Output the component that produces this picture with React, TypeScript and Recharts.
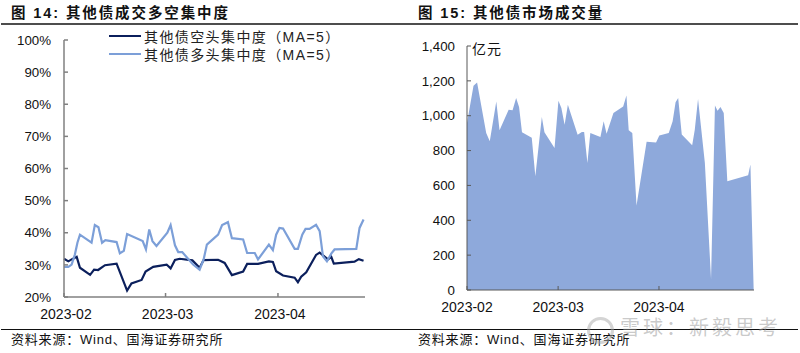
import React from 'react';
import { LineChart, Line, AreaChart, Area, XAxis, YAxis, Legend } from 'recharts';

const FONT = '"Liberation Sans", Arial, sans-serif';
const CJK = '"Liberation Sans", "Noto Sans CJK SC", sans-serif';

// days counted from 2023-02-01
const monthTickDays = [0, 28, 59];
const monthLabels = ['2023-02', '2023-03', '2023-04'];

const shortDays = [0, 1.2, 2.1, 3.5, 4.4, 7.2, 8.3, 9.4, 11.3, 14.5, 17.4, 18.6, 21.4, 22.5, 24.6, 28.3, 29.4, 30.6, 31.9, 35.4, 37.4, 38.5, 42.5, 44.3, 46.3, 49.4, 50.5, 53.5, 56.5, 57.6, 58.5, 60.4, 63.6, 64.5, 65.4, 66.8, 69.5, 70.5, 72.8, 73.7, 74.4, 80.1, 81.3, 82.6];
const shortValues = [31.9, 31.1, 31.7, 32.5, 29.1, 26.9, 28.5, 28.4, 29.9, 30.4, 22, 24.2, 25.3, 27.9, 29.4, 30.1, 28.9, 31.5, 31.9, 31.4, 29.1, 31.5, 31.6, 30.6, 26.8, 27.9, 30.3, 30.3, 31.1, 30.9, 28, 26.7, 26, 24.6, 26.3, 27.7, 33.1, 33.8, 31.7, 32.5, 30.4, 31, 31.8, 31.3];

const longDays = [0, 1.2, 2.1, 3, 3.7, 4.4, 7.6, 8.5, 9.5, 10.5, 11.4, 14.5, 15.4, 16.5, 17.4, 21.7, 22.6, 23.5, 24.4, 25.5, 28.5, 29.4, 30.6, 31.5, 32.6, 34.2, 35.6, 37.4, 38.5, 39.4, 42.5, 43.6, 45.2, 46.3, 49.4, 50.5, 52.6, 53.5, 56.5, 57.6, 58.5, 59.4, 60.4, 63.6, 64.5, 65.7, 66.6, 67.7, 69.5, 70.5, 71.4, 72.5, 73.7, 74.6, 80.6, 81.5, 82.6];
const longValues = [29.4, 29.4, 30.1, 33.2, 36.9, 39.4, 36.9, 42.4, 41.7, 36.9, 37.7, 37.1, 33.6, 34.4, 39.6, 37.4, 34.8, 41, 37.4, 35.9, 40, 42.4, 36.1, 34, 34, 31.9, 30.1, 28.5, 31.7, 36.3, 39.4, 42.4, 43.3, 38.3, 37.9, 33.7, 33.7, 31.7, 36.3, 34.6, 39.4, 41.5, 41.3, 35, 35, 39.4, 41.2, 41.2, 42.5, 40.5, 32.7, 31.1, 33.5, 34.8, 35, 41.5, 44.1];

const pctTicks = [20, 30, 40, 50, 60, 70, 80, 90, 100];

const volumeDays = [0, 2, 3.1, 5.9, 7, 9, 10, 12.8, 14, 15.1, 16, 16.9, 19.9, 21, 23, 23.8, 26.9, 28.1, 29, 30, 31, 34, 35.3, 36, 37, 37.9, 41, 42, 42.9, 45, 48, 49, 49.7, 50.8, 52.1, 55.2, 58.1, 59.1, 62, 63.2, 64.1, 64.9, 66, 69.2, 70, 71, 73.1, 75, 76.2, 77, 77.9, 78.9, 80, 86.4, 87.1, 88.1];
const volumeValues = [958, 1172, 1191, 901, 853, 1082, 916, 1034, 1032, 1101, 1050, 905, 874, 653, 992, 905, 815, 1086, 1044, 948, 1063, 891, 906, 906, 729, 901, 878, 968, 897, 1015, 1053, 1116, 916, 901, 485, 850, 846, 886, 901, 968, 1077, 1101, 892, 831, 920, 1096, 729, 61, 1058, 1029, 1050, 1016, 624, 659, 720, 0];

const volumeTicks = [0, 200, 400, 600, 800, 1000, 1200, 1400];

const shortData = shortDays.map((day, i) => ({ day, value: shortValues[i] }));
const longData = longDays.map((day, i) => ({ day, value: longValues[i] }));
const volumeData = volumeDays.map((day, i) => ({ day, value: volumeValues[i] }));

const monthFormat = (d: number) => monthLabels[monthTickDays.indexOf(d)];

const yTickStyle = { fill: '#111', fontSize: 13.3, fontFamily: FONT };
const xTickStyle = { fill: '#111', fontSize: 14, fontFamily: FONT };

const absText = (left: number, top: number, size: number, extra: React.CSSProperties = {}): React.CSSProperties => ({
  position: 'absolute', left, top, fontSize: size, lineHeight: `${size + 4}px`, whiteSpace: 'nowrap', color: '#111', fontFamily: CJK, ...extra,
});

const rule = (left: number, top: number, width: number, height: number, background: string): React.CSSProperties => ({
  position: 'absolute', left, top, width, height, background,
});

const renderLegend = ({ payload }: any) => (
  <div>
    {(payload || []).map((item: any) => (
      <div key={item.value} style={{ display: 'flex', alignItems: 'center', height: 18 }}>
        <svg width={32} height={4} style={{ marginRight: 3 }}>
          <line x1={0} y1={2} x2={32} y2={2} stroke={item.color} strokeWidth={2} />
        </svg>
        <span style={{ color: '#222', fontFamily: CJK, fontSize: 14, letterSpacing: 1.4, whiteSpace: 'nowrap' }}>{item.value}</span>
      </div>
    ))}
  </div>
);

export default function App() {
  return (
    <div style={{ position: 'absolute', left: 0, top: 0, width: 800, height: 353, background: '#fff', overflow: 'hidden' }}>
      <div style={absText(11, 4, 14.5, { fontWeight: 700, letterSpacing: 1.9 })}>图 14:&nbsp;其他债成交多空集中度</div>
      <div style={absText(418, 4, 14.5, { fontWeight: 700, letterSpacing: 1.9 })}>图 15:&nbsp;其他债市场成交量</div>
      <div style={rule(1, 23, 399, 2, '#4d4d4d')} />
      <div style={rule(400, 23, 398, 2, '#4d4d4d')} />
      <div style={rule(1, 329, 399, 1, '#111')} />
      <div style={rule(400, 329, 398, 1, '#111')} />

      <div style={{ position: 'absolute', left: 0, top: 0 }}>
        <LineChart width={400} height={353} margin={{ top: 40, right: 35, bottom: 26, left: 0 }}>
          <XAxis
            type="number"
            dataKey="day"
            domain={[0, 83]}
            ticks={monthTickDays}
            tickFormatter={monthFormat}
            allowDuplicatedCategory={false}
            height={30}
            tickSize={-4}
            tickMargin={16}
            tick={{ ...xTickStyle, dx: 2 }}
            stroke="#808080"
            strokeWidth={1.5}
          />
          <YAxis
            type="number"
            domain={[20, 100]}
            ticks={pctTicks}
            tickFormatter={(v: number) => `${v}%`}
            width={64}
            tickSize={-4}
            tickMargin={17}
            tick={yTickStyle}
            stroke="#808080"
            strokeWidth={1.5}
            interval={0}
          />
          <Legend
            layout="vertical"
            align="center"
            verticalAlign="middle"
            itemSorter={null}
            content={renderLegend}
            wrapperStyle={{ left: 109, top: 27, width: 240 }}
          />
          <Line data={shortData} dataKey="value" name="其他债空头集中度（MA=5）" stroke="#0b1f5c" strokeWidth={2.2} dot={false} isAnimationActive={false} />
          <Line data={longData} dataKey="value" name="其他债多头集中度（MA=5）" stroke="#7c9fd8" strokeWidth={2.2} dot={false} isAnimationActive={false} />
        </LineChart>
      </div>

      <div style={{ position: 'absolute', left: 400, top: 0 }}>
        <AreaChart width={400} height={353} data={volumeData} margin={{ top: 46, right: 46, bottom: 33, left: 0 }}>
          <XAxis
            type="number"
            dataKey="day"
            domain={[0, 88.2]}
            ticks={monthTickDays}
            tickFormatter={monthFormat}
            height={30}
            tickSize={-4}
            tickMargin={16}
            tick={xTickStyle}
            stroke="#595959"
          />
          <YAxis
            type="number"
            domain={[0, 1400]}
            ticks={volumeTicks}
            tickFormatter={(v: number) => v.toLocaleString('en-US')}
            width={67}
            tickSize={-4}
            tickMargin={16}
            tick={yTickStyle}
            stroke="#595959"
            interval={0}
          />
          <Area type="linear" dataKey="value" stroke="none" fill="#8ea9db" fillOpacity={1} isAnimationActive={false} />
        </AreaChart>
      </div>

      <div style={absText(472, 40, 14, { letterSpacing: 1 })}>亿元</div>
      <div style={absText(11, 331, 13, { letterSpacing: 0.8 })}>资料来源：Wind、国海证券研究所</div>
      <div style={absText(418, 331, 13, { letterSpacing: 0.8 })}>资料来源：Wind、国海证券研究所</div>
      <div style={{ position: 'absolute', left: 587, top: 317, width: 21, height: 21, border: '3px solid rgba(170,170,170,0.5)', borderRadius: '50%' }} />
      <div style={absText(620, 316, 20, { color: 'rgba(150,150,150,0.5)', letterSpacing: 3 })}>雪球：新毅思考</div>
    </div>
  );
}
